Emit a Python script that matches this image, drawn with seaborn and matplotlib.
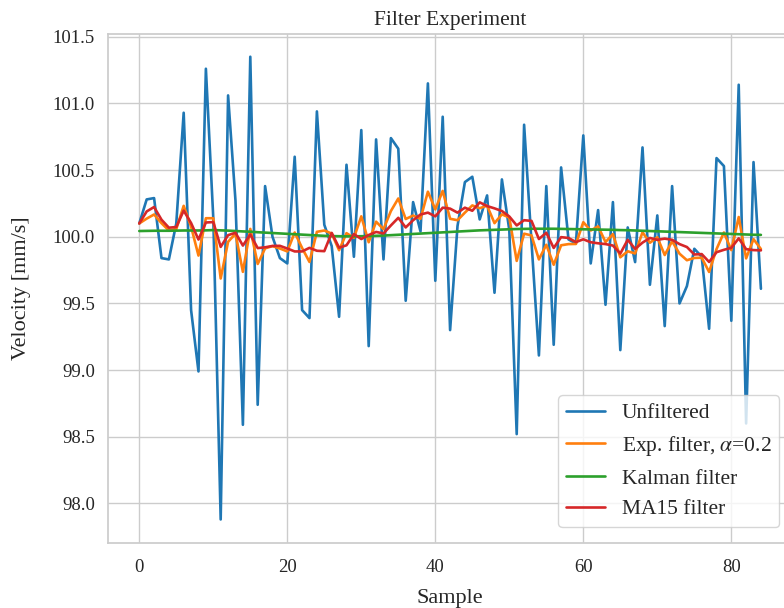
import numpy as np
import pandas as pd
import matplotlib
matplotlib.use("Agg")
import matplotlib.pyplot as plt
import seaborn as sns

# --- data ---
unfiltered = [
    100.10, 100.28, 100.29, 99.84, 99.83, 100.10, 100.93, 99.45, 98.99, 101.26,
    100.14, 97.88, 101.06, 100.27, 98.59, 101.35, 98.74, 100.38, 100.00, 99.84,
    99.80, 100.60, 99.45, 99.39, 100.94, 100.09, 99.93, 99.40, 100.54, 99.85,
    100.80, 99.18, 100.73, 99.83, 100.74, 100.66, 99.52, 100.26, 100.04, 101.15,
    99.67, 100.90, 99.30, 100.08, 100.41, 100.45, 100.13, 100.31, 99.58, 100.43,
    100.05, 98.52, 100.84, 99.96, 99.11, 100.38, 99.19, 100.52, 99.98, 99.95,
    100.76, 99.80, 100.20, 99.49, 100.26, 99.15, 100.07, 99.81, 100.67, 99.64,
    100.16, 99.33, 100.38, 99.50, 99.63, 99.91, 99.85, 99.31, 100.59, 100.53,
    99.37, 101.14, 98.60, 100.56, 99.61,
]
exp_filter = [
    100.100, 100.136, 100.167, 100.102, 100.047, 100.058, 100.232, 100.076, 99.859, 100.139,
    100.139, 99.687, 99.962, 100.023, 99.737, 100.059, 99.796, 99.913, 99.930, 99.912,
    99.890, 100.032, 99.916, 99.811, 100.037, 100.047, 100.024, 99.899, 100.027, 99.992,
    100.153, 99.959, 100.113, 100.057, 100.193, 100.287, 100.133, 100.159, 100.135, 100.338,
    100.205, 100.344, 100.135, 100.124, 100.181, 100.235, 100.214, 100.233, 100.102, 100.168,
    100.144, 99.819, 100.023, 100.010, 99.830, 99.940, 99.790, 99.936, 99.945, 99.946,
    100.109, 100.047, 100.078, 99.960, 100.020, 99.846, 99.891, 99.875, 100.034, 99.955,
    99.996, 99.863, 99.966, 99.873, 99.824, 99.841, 99.843, 99.736, 99.907, 100.032,
    99.900, 100.148, 99.838, 99.982, 99.908,
]
kalman = [
    100.043, 100.044, 100.045, 100.045, 100.045, 100.046, 100.047, 100.047, 100.047, 100.048,
    100.050, 100.048, 100.046, 100.043, 100.040, 100.038, 100.034, 100.031, 100.028, 100.025,
    100.022, 100.019, 100.016, 100.013, 100.010, 100.007, 100.005, 100.004, 100.003, 100.003,
    100.004, 100.005, 100.007, 100.009, 100.012, 100.015, 100.018, 100.021, 100.024, 100.027,
    100.030, 100.033, 100.036, 100.039, 100.042, 100.045, 100.048, 100.050, 100.052, 100.054,
    100.056, 100.058, 100.059, 100.060, 100.060, 100.060, 100.060, 100.059, 100.058, 100.057,
    100.056, 100.055, 100.054, 100.053, 100.052, 100.050, 100.049, 100.047, 100.045, 100.043,
    100.041, 100.039, 100.037, 100.035, 100.033, 100.031, 100.029, 100.027, 100.025, 100.023,
    100.021, 100.019, 100.017, 100.015, 100.014,
]
ma15 = [
    100.100, 100.190, 100.223, 100.128, 100.068, 100.073, 100.196, 100.103, 99.979, 100.107,
    100.110, 99.924, 100.012, 100.030, 99.934, 100.017, 99.915, 99.921, 99.931, 99.932,
    99.912, 99.890, 99.890, 99.917, 99.895, 99.892, 100.029, 99.918, 99.936, 100.020,
    99.983, 100.013, 100.036, 100.025, 100.085, 100.142, 100.070, 100.124, 100.167, 100.181,
    100.153, 100.218, 100.211, 100.181, 100.218, 100.195, 100.258, 100.230, 100.213, 100.193,
    100.152, 100.085, 100.124, 100.119, 99.983, 100.030, 99.916, 99.997, 99.991, 99.960,
    99.981, 99.959, 99.951, 99.945, 99.934, 99.874, 99.977, 99.909, 99.956, 99.991,
    99.977, 99.986, 99.977, 99.945, 99.923, 99.867, 99.870, 99.811, 99.884, 99.902,
    99.917, 99.988, 99.907, 99.900, 99.898,
]
labels = ["Unfiltered", r"Exp. filter, $\alpha$=0.2", "Kalman filter", "MA15 filter"]
samples = np.arange(len(unfiltered))

df = pd.DataFrame({
    "Sample": samples,
    labels[0]: unfiltered,
    labels[1]: exp_filter,
    labels[2]: kalman,
    labels[3]: ma15,
})

# --- style ---
sns.set_theme(style="whitegrid", palette="tab10")
plt.rcParams['font.family'] = ['Liberation Serif', 'DejaVu Serif']
plt.rcParams['mathtext.fontset'] = 'stix'
plt.rcParams['font.size'] = 14

W, H = 784, 608
fig = plt.figure(figsize=(W / 100, H / 100), dpi=100)
ax = fig.add_axes([108.2 / W, (H - 542.6) / H, 683.8 / W, 509.0 / H])

colors = sns.color_palette("tab10")
for i, name in enumerate(labels):
    sns.lineplot(data=df, x="Sample", y=name, ax=ax, color=colors[i],
                 linewidth=1.9, label=name)

ax.set_title("Filter Experiment", fontsize=15.5, pad=6)
ax.set_xlabel("Sample", fontsize=16, labelpad=9)
ax.set_ylabel("Velocity [mm/s]", fontsize=16, labelpad=16)
ax.tick_params(axis='both', labelsize=13.5)
ax.tick_params(axis='x', pad=6)
ax.set_xticks([0, 20, 40, 60, 80])

ax.legend(loc='lower right', bbox_to_anchor=(779 / W, 1 - 527 / H),
          bbox_transform=fig.transFigure, borderaxespad=0, fontsize=15.5,
          handlelength=1.8, borderpad=0.35)

fig.savefig("out.png", dpi=100, facecolor='white')
